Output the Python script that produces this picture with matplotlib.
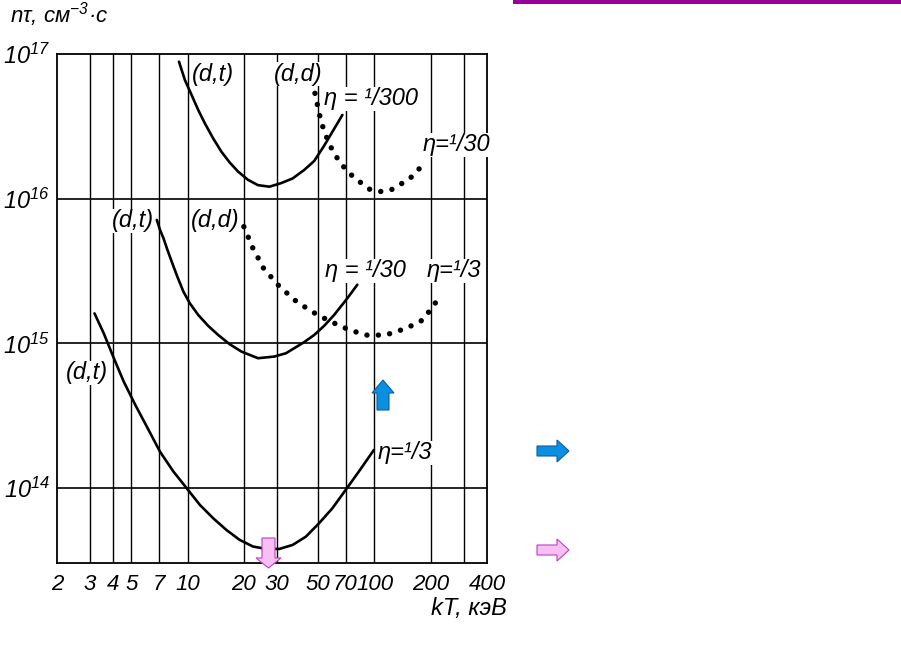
import matplotlib as mpl
mpl.use('Agg')
import matplotlib.pyplot as plt
from matplotlib.patches import Polygon, Rectangle

plt.rcParams['font.family'] = ['Liberation Sans Narrow', 'Liberation Sans', 'DejaVu Sans']
plt.rcParams['font.style'] = 'italic'
plt.rcParams['mathtext.fontset'] = 'custom'
plt.rcParams['mathtext.rm'] = 'Liberation Sans:italic'
plt.rcParams['mathtext.it'] = 'Liberation Sans:italic'
plt.rcParams['mathtext.default'] = 'rm'

# kT (keV) vs n*tau (cm^-3 s)
dt300_x = [8.99, 9.67, 10.5, 11.4, 12.36, 13.7, 15.17, 16.79, 18.61, 21.03, 23.78, 27.41,
           31.62, 36.49, 42.07, 47.55, 53.75, 60.75, 67.33]
dt300_y = [8.85e16, 6.61e16, 5.21e16, 4.1e16, 3.32e16, 2.61e16, 2.11e16, 1.78e16, 1.54e16, 1.35e16,
           1.24e16, 1.21e16, 1.28e16, 1.38e16, 1.58e16, 1.82e16, 2.32e16, 3.03e16, 3.79e16]

dd30_x = [48.0, 50.6, 52.1, 57.1, 65.3, 77.1, 94.4, 107.7, 122.7, 154.0, 183.0]
dd30_y = [5.35e16, 3.89e16, 3.32e16, 2.39e16, 1.77e16, 1.41e16, 1.16e16, 1.12e16, 1.15e16, 1.37e16, 1.73e16]

dt30_x = [6.84, 7.12, 7.43, 7.80, 8.22, 8.81, 9.49, 10.28, 11.4, 12.89, 14.6, 16.79, 19.4, 23.8,
          29.1, 33.6, 37.2, 42.07, 47.5, 53.75, 60.8, 71.6, 80.9]
dt30_y = [7.13e15, 6.08e15, 5.32e15, 4.42e15, 3.67e15, 2.89e15, 2.28e15, 1.89e15, 1.57e15, 1.32e15,
          1.14e15, 9.86e14, 8.77e14, 7.89e14, 8.1e14, 8.54e14, 9.25e14, 1.02e15, 1.14e15, 1.32e15,
          1.57e15, 2.05e15, 2.54e15]

dd3_x = [20.0, 22.3, 25.5, 30.4, 37.2, 45.7, 57.2, 72.1, 89.6, 114.4, 148.0, 181.4, 211.0, 226.0]
dd3_y = [6.4e15, 4.58e15, 3.3e15, 2.54e15, 2.0e15, 1.67e15, 1.43e15, 1.25e15, 1.14e15, 1.14e15,
         1.27e15, 1.45e15, 1.89e15, 2.18e15]

dt3_x = [3.175, 3.56, 4.03, 4.55, 5.25, 6.18, 7.12, 8.39, 9.88, 11.63, 13.7, 16.12, 18.97, 22.36,
         26.32, 30.97, 36.49, 42.95, 50.55, 59.57, 70.12, 82.5, 99.2]
dt3_y = [1.61e15, 1.17e15, 7.89e14, 5.44e14, 3.75e14, 2.52e14, 1.78e14, 1.3e14, 9.97e13, 7.64e13,
         6.18e13, 5.13e13, 4.38e13, 3.94e13, 3.79e13, 3.79e13, 4.04e13, 4.61e13, 5.71e13, 7.25e13,
         9.7e13, 1.3e14, 1.83e14]

xticks = [2, 3, 4, 5, 7, 10, 20, 30, 50, 70, 100, 200, 400]
xgrid = [3, 4, 5, 7, 10, 20, 30, 50, 70, 100, 200, 300]
yticks = [1e14, 1e15, 1e16, 1e17]
ytick_labels = ['$10^{14}$', '$10^{15}$', '$10^{16}$', '$10^{17}$']

fig = plt.figure(figsize=(9.01, 6.54), dpi=100)
ax = fig.add_axes([57 / 901, 1 - 563 / 654, 430 / 901, 509 / 654])
ax.set_xscale('log')
ax.set_yscale('log')
ax.set_xlim(2, 400)
ax.set_ylim(3.03e13, 1e17)

for x in xgrid:
    ax.axvline(x, color='black', lw=1.0, zorder=1)
for y in yticks[:-1]:
    ax.axhline(y, color='black', lw=1.2, zorder=1)

solid = dict(color='black', lw=1.9, solid_capstyle='round', solid_joinstyle='round', zorder=3)
dots = dict(color='black', lw=3.9, linestyle=(0, (0.01, 2.1)), dash_capstyle='round', zorder=3)
ax.plot(dt300_x, dt300_y, **solid)
ax.plot(dd30_x, dd30_y, **dots)
ax.plot(dt30_x, dt30_y, **solid)
ax.plot(dd3_x, dd3_y, **dots)
ax.plot(dt3_x, dt3_y, **solid)

ax.set_xticks(xticks)
ax.set_xticklabels([str(v) for v in xticks], fontsize=16)
ax.set_yticks(yticks)
ax.set_yticklabels(ytick_labels, fontsize=17)
ax.minorticks_off()
ax.tick_params(length=0)
ax.tick_params(axis='x', pad=8)
ax.tick_params(axis='y', pad=5)
for s in ax.spines.values():
    s.set_linewidth(1.3)

# overlay in pixel units for labels and the coloured arrows
ov = fig.add_axes([0, 0, 1, 1], zorder=5)
ov.set_xlim(0, 901)
ov.set_ylim(654, 0)
ov.axis('off')
ov.patch.set_alpha(0)

box = dict(facecolor='white', edgecolor='none', pad=0.5)
labels = [
    ('(d,t)', 213, 74), ('(d,d)', 298, 74), ('η = ¹/300', 371, 99), ('η=¹/30', 456, 145),
    ('(d,t)', 133, 221), ('(d,d)', 215, 221), ('η = ¹/30', 365, 271), ('η=¹/3', 454, 271),
    ('(d,t)', 87, 373), ('η=¹/3', 405, 453),
]
for txt, x, y in labels:
    ov.text(x, y, txt, fontsize=17, ha='center', va='center', bbox=box)

ov.text(10, 15, 'nτ, см$^{-3}$·с', fontsize=16, ha='left', va='center')
ov.text(507, 608, 'kT, кэВ', fontsize=17, ha='right', va='center')

ov.add_patch(Rectangle((513, 0), 388, 3.5, color='#990099', lw=0))

blue, blue_edge = '#0a8fe2', '#0d5f9e'
pink, pink_edge = '#f8c0f2', '#c040c0'
ov.add_patch(Polygon([(377, 410), (377, 393), (372, 393), (383, 380), (394, 393), (389, 393), (389, 410)],
                     closed=True, facecolor=blue, edgecolor=blue_edge, lw=0.8))
ov.add_patch(Polygon([(537, 446), (557, 446), (557, 440), (569, 451), (557, 462), (557, 456), (537, 456)],
                     closed=True, facecolor=blue, edgecolor=blue_edge, lw=0.8))
ov.add_patch(Polygon([(537, 545), (557, 545), (557, 539), (569, 550), (557, 561), (557, 555), (537, 555)],
                     closed=True, facecolor=pink, edgecolor=pink_edge, lw=0.8))
ov.add_patch(Polygon([(262, 538), (275, 538), (275, 558), (281, 558), (268.5, 568), (256, 558), (262, 558)],
                     closed=True, facecolor=pink, edgecolor=pink_edge, lw=0.8))

fig.savefig('out.png', dpi=100)
plt.close(fig)
